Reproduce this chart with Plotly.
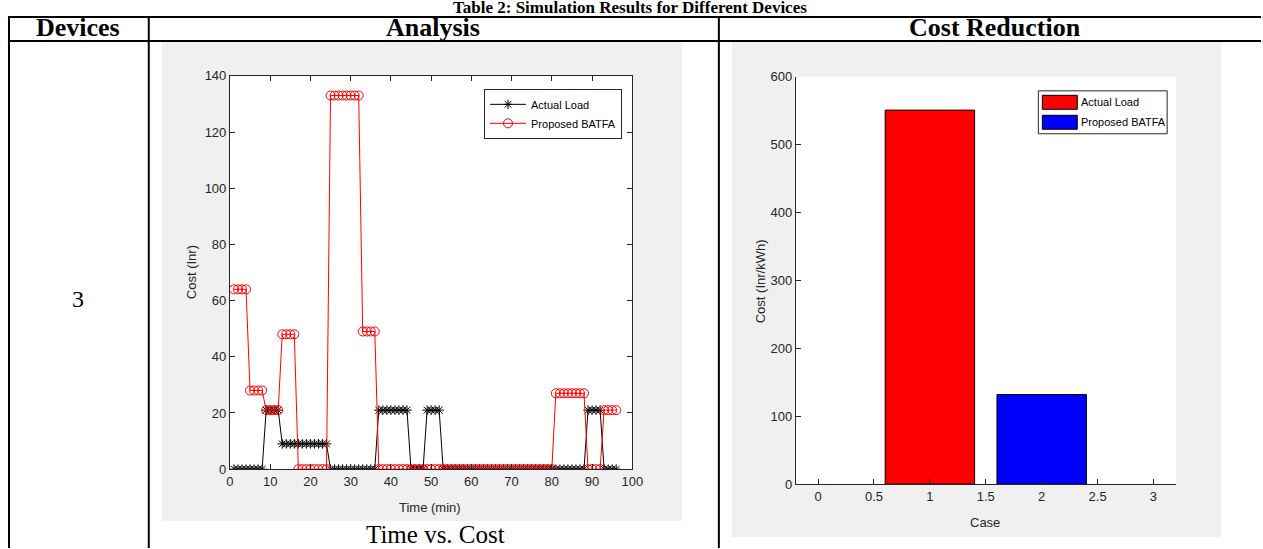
import plotly.graph_objects as go

W, H = 1276, 563

# ---------------- data ----------------
time_min = list(range(1, 97))
actual_load = ([0] * 8 + [21] * 4 + [9] * 12 + [0] * 12 + [21] * 8 + [0] * 4 +
               [21] * 4 + [0] * 36 + [21] * 4 + [0] * 4)
proposed_batfa = ([64] * 4 + [28] * 4 + [21] * 4 + [48] * 4 + [0] * 8 + [133] * 8 +
                  [49] * 4 + [0] * 44 + [27] * 8 + [0] * 4 + [21] * 4)
cases = [1, 2]
case_cost = [551, 132]
case_names = ["Actual Load", "Proposed BATFA"]
case_colors = ["#ff0000", "#0000ff"]
x_ticks_left = list(range(0, 101, 10))
x_ticks_right = [0, 0.5, 1, 1.5, 2, 2.5, 3]
x_ticklabels_right = ["0", "0.5", "1", "1.5", "2", "2.5", "3"]

RW, RH = 1263, 549  # reference picture size (design coordinates)


def fx(p):
    return p / RW


def fy(p):
    return 1 - p / RH


TICKFONT = dict(family="Liberation Sans Narrow, Arial Narrow, Liberation Sans, Arial", size=13, color="#262626")
LEGFONT = dict(family=TICKFONT["family"], size=11, color="black")
AXCOL = "#262626"

fig = go.Figure()

fig.add_trace(go.Scatter(
    x=time_min, y=actual_load, mode="lines+markers", name="Actual Load",
    line=dict(color="black", width=1),
    marker=dict(symbol="asterisk-open", size=8, color="black", line=dict(color="black", width=1)),
    xaxis="x", yaxis="y", legend="legend"))
fig.add_trace(go.Scatter(
    x=time_min, y=proposed_batfa, mode="lines+markers", name="Proposed BATFA",
    line=dict(color="#ff0000", width=1),
    marker=dict(symbol="circle-open", size=9, color="#ff0000", line=dict(color="#ff0000", width=1)),
    xaxis="x", yaxis="y", legend="legend"))

for c, v, n, col in zip(cases, case_cost, case_names, case_colors):
    fig.add_trace(go.Bar(
        x=[c], y=[v], name=n, width=0.8, showlegend=False,
        marker=dict(color=col, line=dict(color="black", width=1)),
        xaxis="x2", yaxis="y2"))

L = dict(x0=230.3, x1=633.3, y0=76, y1=470)
R = dict(x0=797, x1=1177.7, y0=77, y1=485)

shapes = []
shapes.append(dict(type="rect", xref="paper", yref="paper", x0=fx(162), x1=fx(683), y0=fy(522), y1=fy(42),
                   fillcolor="#f0f0f0", line=dict(width=0), layer="below"))
shapes.append(dict(type="rect", xref="paper", yref="paper", x0=fx(733), x1=fx(1223), y0=fy(538), y1=fy(42),
                   fillcolor="#f0f0f0", line=dict(width=0), layer="below"))
for b in (L, R):
    shapes.append(dict(type="rect", xref="paper", yref="paper", x0=fx(b["x0"]), x1=fx(b["x1"]),
                       y0=fy(b["y1"]), y1=fy(b["y0"]), fillcolor="white", line=dict(width=0), layer="below"))
TL = dict(color="black", width=2)
for yy in (17, 41):
    shapes.append(dict(type="line", xref="paper", yref="paper", x0=fx(8), x1=1, y0=fy(yy), y1=fy(yy), line=TL))
for xx in (9, 149, 720):
    shapes.append(dict(type="line", xref="paper", yref="paper", x0=fx(xx), x1=fx(xx), y0=0, y1=fy(17), line=TL))

SERIF = "Liberation Serif, Times New Roman, serif"
ann = []

# legend of the bar chart (box, colour patches, labels)
shapes.append(dict(type="rect", xref="paper", yref="paper", x0=fx(1040), x1=fx(1169), y0=fy(134), y1=fy(91),
                   fillcolor="white", line=dict(color=AXCOL, width=1), layer="above"))
for i, (n, col) in enumerate(zip(case_names, case_colors)):
    top = 95.5 + i * 20
    shapes.append(dict(type="rect", xref="paper", yref="paper", x0=fx(1044), x1=fx(1079),
                       y0=fy(top + 14), y1=fy(top), fillcolor=col, line=dict(color="black", width=1),
                       layer="above"))
    ann.append(dict(text=n, x=fx(1081), y=fy(top + 7), xref="paper", yref="paper", showarrow=False,
                    font=LEGFONT, xanchor="left", yanchor="middle"))

ann.append(dict(text="<b>Table 2: Simulation Results for Different Devices</b>", x=fx(631), y=fy(8),
                xref="paper", yref="paper", showarrow=False, font=dict(family=SERIF, size=17, color="black"),
                xanchor="center", yanchor="middle"))
for t, xx in (("Devices", 78), ("Analysis", 434), ("Cost Reduction", 997)):
    ann.append(dict(text="<b>%s</b>" % t, x=fx(xx), y=fy(28), xref="paper", yref="paper", showarrow=False,
                    font=dict(family=SERIF, size=26, color="black"), xanchor="center", yanchor="middle"))
ann.append(dict(text="3", x=fx(78), y=fy(300), xref="paper", yref="paper", showarrow=False,
                font=dict(family=SERIF, size=24, color="black"), xanchor="center", yanchor="middle"))
ann.append(dict(text="Time vs. Cost", x=fx(436), y=fy(535), xref="paper", yref="paper", showarrow=False,
                font=dict(family=SERIF, size=25, color="black"), xanchor="center", yanchor="middle"))
ann.append(dict(text="Cost (Inr)", x=fx(192), y=fy(273), xref="paper", yref="paper", showarrow=False,
                textangle=-90, font=TICKFONT, xanchor="center", yanchor="middle"))
ann.append(dict(text="Time (min)", x=fx(431), y=fy(508), xref="paper", yref="paper", showarrow=False,
                font=TICKFONT, xanchor="center", yanchor="middle"))
ann.append(dict(text="Cost (Inr/kWh)", x=fx(762), y=fy(282), xref="paper", yref="paper", showarrow=False,
                textangle=-90, font=TICKFONT, xanchor="center", yanchor="middle"))
ann.append(dict(text="Case", x=fx(987), y=fy(523), xref="paper", yref="paper", showarrow=False,
                font=TICKFONT, xanchor="center", yanchor="middle"))

common_ax = dict(showgrid=False, zeroline=False, showline=True, linecolor=AXCOL, linewidth=1,
                 ticks="inside", ticklen=5, tickcolor=AXCOL, tickwidth=1, tickfont=TICKFONT)

fig.update_layout(
    width=W, height=H, margin=dict(l=0, r=0, t=0, b=0),
    paper_bgcolor="white", plot_bgcolor="rgba(0,0,0,0)",
    barmode="overlay", showlegend=True,
    xaxis=dict(domain=[fx(L["x0"]), fx(L["x1"])], range=[0, 100], tickvals=x_ticks_left,
               mirror="ticks", anchor="y", **common_ax),
    yaxis=dict(domain=[fy(L["y1"]), fy(L["y0"])], range=[0, 140], dtick=20,
               mirror="ticks", anchor="x", **common_ax),
    xaxis2=dict(domain=[fx(R["x0"]), fx(R["x1"])], range=[-0.2, 3.2], tickvals=x_ticks_right,
                ticktext=x_ticklabels_right, anchor="y2", **common_ax),
    yaxis2=dict(domain=[fy(R["y1"]), fy(R["y0"])], range=[0, 600], dtick=100, anchor="x2", **common_ax),
    legend=dict(x=fx(623), y=fy(89), xanchor="right", yanchor="top", bgcolor="white",
                bordercolor=AXCOL, borderwidth=1, font=LEGFONT,
                tracegroupgap=0, itemwidth=36),
    shapes=shapes, annotations=ann,
)

fig.write_html(
    "out.html",
    config={"responsive": False, "displayModeBar": False},
    post_script="document.body.style.margin='-7px 0 0 -4px';document.body.style.padding='0';"
                "document.documentElement.style.overflow='hidden';document.body.style.overflow='hidden';",
)
